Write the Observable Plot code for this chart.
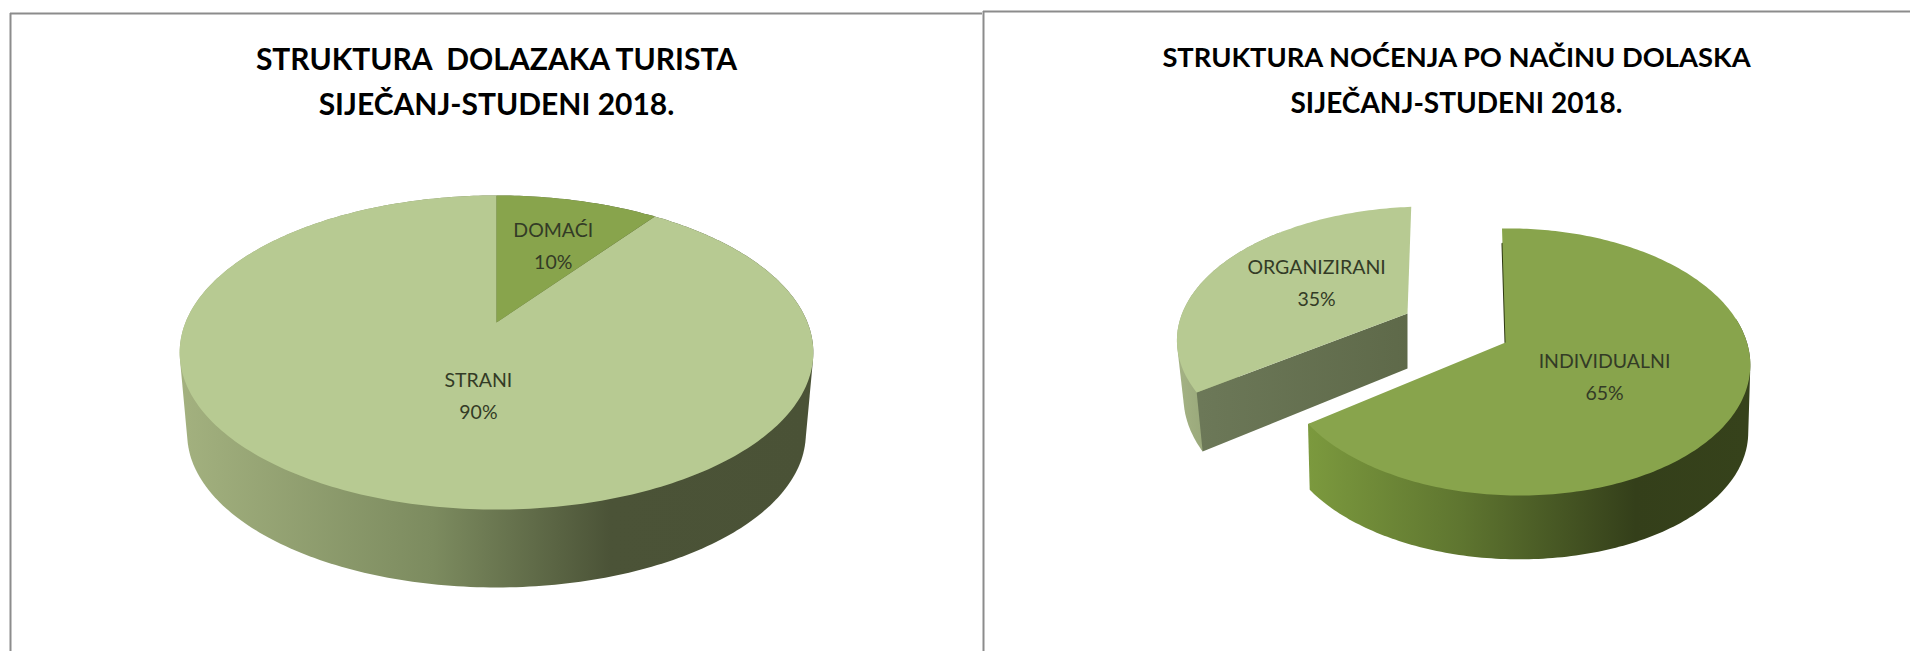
<!DOCTYPE html>
<html>
<head>
<meta charset="utf-8">
<style>html,body{margin:0;padding:0;background:#fff;overflow:hidden}svg{display:block}</style>
<script src="https://cdn.jsdelivr.net/npm/d3@7"></script>
<script src="https://cdn.jsdelivr.net/npm/@observablehq/plot@0.6"></script>
</head>
<body>
<script>
// Data
const leftNames = ["DOMAĆI", "STRANI"];
const leftValues = [10, 90];
const rightNames = ["INDIVIDUALNI", "ORGANIZIRANI"];
const rightValues = [65, 35];
const leftTitle = ["STRUKTURA  DOLAZAKA TURISTA", "SIJEČANJ-STUDENI 2018."];
const rightTitle = ["STRUKTURA NOĆENJA PO NAČINU DOLASKA", "SIJEČANJ-STUDENI 2018."];

// Layout and style
const W = 1910, H = 651;
const LIGHT = "#b7ca92", DARK = "#88a44c";
const viewLeft = {cx: 496, topY: 322, botY: 404, A: 311, B: 151.3, A2: 303.6, B2: 148, k: 0.191, m: 0, s: 0};
const viewInd = {cx: 1505, topY: 342, botY: 410, A: 233, B: 130.6, A2: 231, B2: 127, k: 0.146, m: -0.035, s: -4};
const viewOrg = {cx: 1407, topY: 313, botY: 368, A: 245, B: 128, A2: 238, B2: 134.5, k: 0.2, m: -0.087, s: 4.5};

const rad = d => d * Math.PI / 180;
function project(v, deg, r, lower) {
  const u0 = r * Math.sin(rad(deg)), v0 = r * Math.cos(rad(deg));
  const w = 1 + v.k * v0 + v.m * u0;
  const A = lower ? v.A2 : v.A, B = lower ? v.B2 : v.B, Y = lower ? v.botY : v.topY;
  return {x: v.cx + (A * u0 + v.s * v0) / w, y: Y - B * v0 / w};
}
const arc = (v, a, b, lower) => d3.range(a, b, 1).concat(b).map(t => project(v, t, 1, lower));
const wedge = (v, a, b, lower) => [project(v, 0, 0, lower), ...arc(v, a, b, lower)];
// the outer wall is the hull of the top and bottom arcs
const band = (v, a, b) => d3.polygonHull([...arc(v, a, b, false), ...arc(v, a, b, true)].map(p => [p.x, p.y])).map(([x, y]) => ({x, y}));
const shape = (pts, fill) => Plot.line(pts, {x: "x", y: "y", fill, stroke: null, curve: "linear-closed"});
const angles = vals => {
  let c = 0;
  return vals.map(d => { const a = c; c += d * 3.6; return [a, c]; });
};

const [aDom, aStr] = angles(leftValues);
const [aInd, aOrg] = angles(rightValues);

function gradient(id, x1, x2, stops) {
  const g = document.createElementNS("http://www.w3.org/2000/svg", "linearGradient");
  g.setAttribute("id", id);
  g.setAttribute("gradientUnits", "userSpaceOnUse");
  g.setAttribute("x1", x1); g.setAttribute("x2", x2);
  g.setAttribute("y1", 0); g.setAttribute("y2", 0);
  for (const [o, c] of stops) {
    const s = document.createElementNS("http://www.w3.org/2000/svg", "stop");
    s.setAttribute("offset", o); s.setAttribute("stop-color", c);
    g.appendChild(s);
  }
  return g;
}
const defs = () => {
  const d = document.createElementNS("http://www.w3.org/2000/svg", "defs");
  d.appendChild(gradient("wallL", 180, 812, [[0, "#a3b17f"], [0.4, "#7c8b5f"], [0.68, "#4b5337"], [1, "#4a5236"]]));
  d.appendChild(gradient("wallI", 1305, 1745, [[0, "#7c9a3e"], [0.35, "#5f7630"], [0.75, "#343f1a"], [1, "#36421b"]]));
  d.appendChild(gradient("wallO", 1175, 1210, [[0, "#a5b385"], [1, "#97a678"]]));
  d.appendChild(gradient("wallR", 1200, 1410, [[0, "#6c7858"], [1, "#5e6949"]]));
  return d;
};

function labels(view, names, vals, pos) {
  const rows = names.flatMap((n, i) => {
    const p = project(view[i], pos[i][0], pos[i][1], false);
    return [{x: p.x, y: p.y - 16, t: n}, {x: p.x, y: p.y + 16, t: vals[i] + "%"}];
  });
  return Plot.text(rows, {x: "x", y: "y", text: "t", fontFamily: "Lato", fontSize: 19.5, fill: "#333b26", stroke: null});
}

const titleRows = [
  {x: 496, y: 60, t: leftTitle[0], s: 30}, {x: 496, y: 105, t: leftTitle[1], s: 30},
  {x: 1456, y: 58, t: rightTitle[0], s: 27.3}, {x: 1456, y: 104, t: rightTitle[1], s: 28}
];

const chart = Plot.plot({
  width: W, height: H, margin: 0,
  x: {domain: [0, W], range: [0, W], axis: null},
  y: {domain: [0, H], range: [0, H], axis: null},
  marks: [
    defs,
    // panel borders
    Plot.ruleY([{y: 13, a: 10, b: 982}, {y: 11, a: 983, b: W}], {y: "y", x1: "a", x2: "b", stroke: "#8c8c8c", strokeWidth: 2}),
    Plot.ruleX([{x: 10, a: 13, b: H}, {x: 983, a: 11, b: H}], {x: "x", y1: "a", y2: "b", stroke: "#8c8c8c", strokeWidth: 2}),
    // left pie
    shape(band(viewLeft, 0, 360), "url(#wallL)"),
    shape(wedge(viewLeft, ...aStr, false), LIGHT),
    shape(wedge(viewLeft, ...aDom, false), DARK),
    // right pie: individual slice
    shape(band(viewInd, 80, aInd[1]), "url(#wallI)"),
    Plot.line([project(viewInd, 0, 0.85, false), project(viewInd, 0, 0, false)], {x: "x", y: "y", stroke: "#2f3a14", strokeWidth: 2}),
    shape(wedge(viewInd, ...aInd, false), DARK),
    // right pie: organised slice
    shape(band(viewOrg, aOrg[0], 320), "url(#wallO)"),
    shape([project(viewOrg, 0, 0, false), project(viewOrg, aOrg[0], 1, false), project(viewOrg, aOrg[0], 1, true), project(viewOrg, 0, 0, true)], "url(#wallR)"),
    shape(wedge(viewOrg, ...aOrg, false), LIGHT),
    // text
    Plot.text(titleRows, {x: "x", y: "y", text: "t", fontSize: "s", fontFamily: "Lato", fontWeight: 700, fill: "#000", stroke: null}),
    labels([viewLeft, viewLeft], leftNames, leftValues, [[20, 0.59], [186.8, 0.45]]),
    labels([viewInd, viewOrg], rightNames, rightValues, [[122.5, 0.473], [302, 0.481]])
  ]
});
document.body.appendChild(chart);
</script>
</body>
</html>
